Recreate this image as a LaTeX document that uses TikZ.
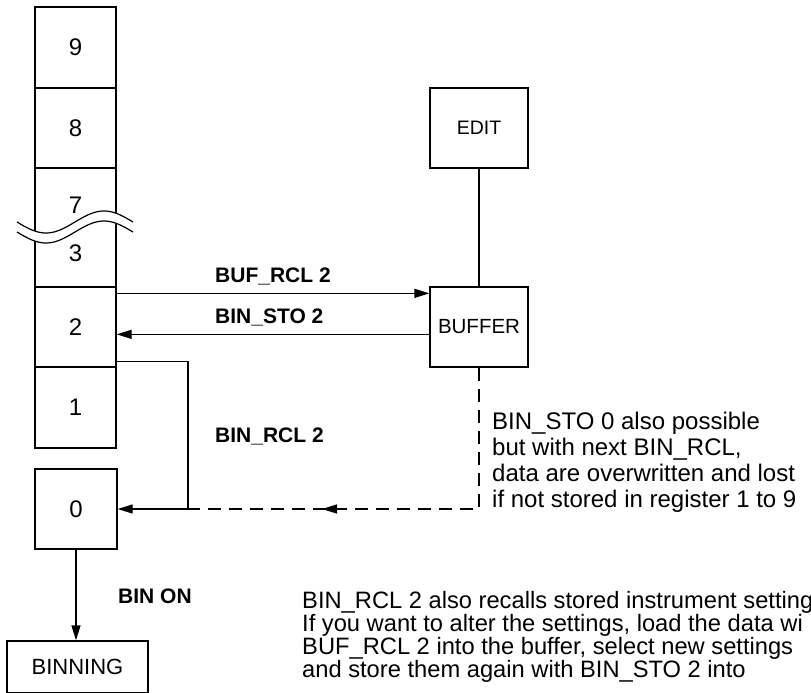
\documentclass[tikz,border=0pt]{standalone}
\usepackage{fontspec}
\setmainfont{Liberation Sans}
\usetikzlibrary{arrows.meta,calc}
\begin{document}
\begin{tikzpicture}[x=1pt,y=-1pt,
  ln/.style={line width=1.3pt},
  arr/.style={ln,-{Triangle[length=15pt,width=9pt]}},
  box/.style={draw,line width=1.3pt,inner sep=0pt,minimum width=81pt,minimum height=80pt,font=\fontsize{24}{28}\selectfont},
  wbox/.style={box,minimum width=98pt,font=\fontsize{19.5}{24}\selectfont},
  lab/.style={inner sep=0pt,font=\bfseries\fontsize{21}{24}\selectfont},
  digit/.style={inner sep=0pt,font=\fontsize{24}{28}\selectfont},
  dsh/.style={ln,dash pattern=on 13pt off 8pt}]
\useasboundingbox (0,0) rectangle (811,693);
\clip (0,0) rectangle (811,693);
% register stack
\node[box,minimum height=81pt] (r9) at (75.5,47.5) {9};
\node[box] (r8) at (75.5,128) {8};
\node[box,minimum height=119pt] (r73) at (75.5,227.5) {};
\node[box] (r2) at (75.5,327) {2};
\node[box,minimum height=81pt] (r1) at (75.5,407.5) {1};
\node[box,minimum width=82pt] (r0) at (76,509) {0};
\node[digit] (d7) at (75.5,205) {7};
\node[digit] (d3) at (75.5,253) {3};
% break symbol
\fill[white] plot[domain=17:133,samples=80] (\x,{222+11*sin(3.10345*(\x-17))})
  -- plot[domain=133:17,samples=80] (\x,{232+11*sin(3.10345*(\x-17))}) -- cycle;
\draw[line width=1.2pt] plot[domain=17:133,samples=80] (\x,{222+11*sin(3.10345*(\x-17))});
\draw[line width=1.2pt] plot[domain=17:133,samples=80] (\x,{232+11*sin(3.10345*(\x-17))});
% other boxes
\node[wbox] (edit) at (479,128) {EDIT};
\node[wbox,font=\fontsize{20.5}{24}\selectfont] (buffer) at (479,327) {BUFFER};
\node[box,minimum width=141pt,minimum height=52pt,font=\fontsize{22}{24}\selectfont] (binning) at (77.5,667) {BINNING};
% connectors
\draw[ln] (edit) -- (buffer);
\draw[arr] ([yshift=-7pt]r2.north east) -- ([yshift=-7pt]buffer.north west);
\draw[arr] ([yshift=-48pt]buffer.north west) -- ([yshift=-48pt]r2.north east);
\coordinate (j) at (188,509);
\draw[arr] ([yshift=6pt]r2.south east) -| (j) -- (r0.east);
\draw[dsh] (buffer.south) |- (j);
\coordinate (m1) at (338,509);
\coordinate (m2) at (322,509);
\draw[arr] (m1) -- (m2);
\draw[arr] (r0.south) -- (r0.south |- binning.north);
% labels
\node[lab,anchor=base west] (lbuf) at (215,282) {BUF\_RCL 2};
\node[lab,anchor=base west] (lsto) at (215,323) {BIN\_STO 2};
\node[lab,anchor=base west] (lrcl) at (215,442) {BIN\_RCL 2};
\node[lab,anchor=base west] (lon) at (118,603) {BIN ON};
\node[inner sep=0pt,anchor=base west,font=\fontsize{24}{26.3}\selectfont] (note1) at (492,429)
  {\parbox[t]{320pt}{\raggedright BIN\_STO 0 also possible\\but with next BIN\_RCL,\\data are overwritten and lost\\if not stored in register 1 to 9}};
\node[inner sep=0pt,anchor=base west,font=\fontsize{23.7}{23.2}\selectfont] (note2) at (302,608)
  {\parbox[t]{600pt}{\raggedright BIN\_RCL 2 also recalls stored instrument setting\\If you want to alter the settings, load the data wi\\BUF\_RCL 2 into the buffer, select new settings\\and store them again with BIN\_STO 2 into}};
\end{tikzpicture}
\end{document}
